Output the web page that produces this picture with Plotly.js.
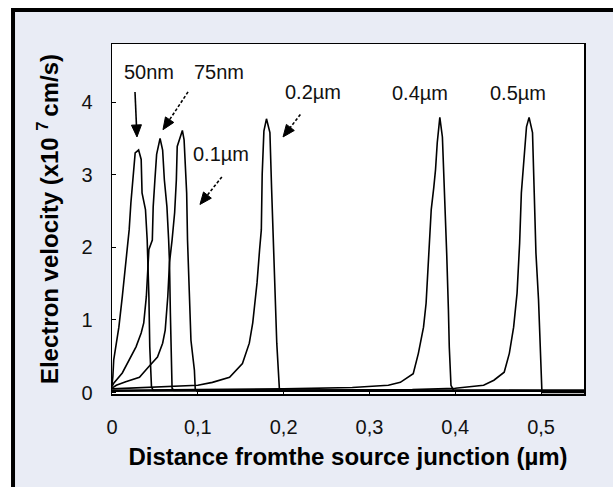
<!DOCTYPE html>
<html>
<head>
<meta charset="utf-8">
<script src="https://cdn.plot.ly/plotly-3.0.1.min.js"></script>
<style>
  html, body { margin: 0; padding: 0; background: #ffffff; }
  #chart { width: 613px; height: 487px; }
</style>
</head>
<body>
<div id="chart"></div>
<script>
// ---- data ----
const seriesNames = ['50nm', '75nm', '0.1µm', '0.2µm', '0.4µm', '0.5µm'];

const x50 = [0, 0.001, 0.002, 0.005, 0.008, 0.012, 0.016, 0.020, 0.022, 0.025, 0.027, 0.031, 0.034, 0.035, 0.039, 0.041, 0.042, 0.043, 0.044, 0.046, 0.048, 0.55];
const y50 = [0.10, 0.22, 0.45, 0.68, 0.90, 1.32, 1.79, 2.24, 2.61, 3.02, 3.30, 3.34, 3.21, 2.75, 2.52, 2.10, 1.79, 1.32, 0.63, 0.08, 0.03, 0.03];

const x75 = [0, 0.002, 0.012, 0.020, 0.028, 0.034, 0.037, 0.040, 0.041, 0.043, 0.047, 0.048, 0.050, 0.052, 0.056, 0.059, 0.061, 0.064, 0.066, 0.067, 0.068, 0.069, 0.070, 0.072, 0.55];
const y75 = [0.08, 0.13, 0.27, 0.45, 0.63, 0.82, 0.96, 1.32, 1.59, 1.97, 2.10, 2.56, 2.93, 3.28, 3.50, 3.34, 2.93, 2.56, 2.10, 1.79, 1.10, 0.49, 0.06, 0.03, 0.03];

const x100 = [0, 0.005, 0.016, 0.032, 0.043, 0.053, 0.059, 0.062, 0.065, 0.067, 0.070, 0.073, 0.075, 0.076, 0.082, 0.084, 0.087, 0.088, 0.090, 0.092, 0.096, 0.097, 0.099, 0.55];
const y100 = [0.06, 0.10, 0.15, 0.21, 0.36, 0.49, 0.68, 0.86, 1.32, 1.79, 2.10, 2.48, 2.93, 3.39, 3.61, 3.48, 2.75, 2.10, 1.41, 0.72, 0.31, 0.05, 0.02, 0.02];

const x200 = [0, 0.05, 0.10, 0.117, 0.137, 0.152, 0.160, 0.164, 0.169, 0.172, 0.174, 0.175, 0.177, 0.180, 0.184, 0.186, 0.188, 0.190, 0.192, 0.195, 0.197, 0.55];
const y200 = [0.05, 0.07, 0.10, 0.14, 0.21, 0.40, 0.68, 0.96, 1.51, 1.97, 2.24, 3.00, 3.60, 3.77, 3.58, 2.80, 2.10, 1.41, 0.68, 0.06, 0.02, 0.02];

const x400 = [0, 0.10, 0.20, 0.28, 0.322, 0.336, 0.351, 0.357, 0.363, 0.366, 0.369, 0.372, 0.375, 0.377, 0.379, 0.382, 0.385, 0.388, 0.390, 0.392, 0.393, 0.395, 0.398, 0.55];
const y400 = [0.03, 0.04, 0.05, 0.07, 0.10, 0.14, 0.26, 0.54, 0.90, 1.23, 1.83, 2.52, 2.83, 3.07, 3.44, 3.79, 3.52, 2.70, 1.92, 1.14, 0.63, 0.10, 0.03, 0.02];

const x500 = [0, 0.20, 0.35, 0.40, 0.433, 0.445, 0.457, 0.463, 0.468, 0.472, 0.475, 0.477, 0.480, 0.483, 0.486, 0.490, 0.492, 0.494, 0.497, 0.499, 0.501, 0.55];
const y500 = [0.02, 0.03, 0.04, 0.06, 0.10, 0.17, 0.28, 0.54, 0.90, 1.37, 2.06, 2.75, 3.21, 3.66, 3.79, 3.58, 2.75, 1.92, 1.28, 0.59, 0.00, 0.00];

const xTickVals = [0, 0.1, 0.2, 0.3, 0.4, 0.5];
const xTickText = ['0', '0,1', '0,2', '0,3', '0,4', '0,5'];
const yTickVals = [0, 1, 2, 3, 4];
const yTickText = ['0', '1', '2', '3', '4'];

// curve labels (text anchors in data units)
const labelText = ['50nm', '75nm', '0.1µm', '0.2µm', '0.4µm', '0.5µm'];
const labelX = [0.043, 0.1247, 0.127, 0.234, 0.359, 0.473];
const labelY = [4.42, 4.42, 3.28, 4.14, 4.13, 4.13];

// pointer arrows (data units)
const arrowTailX = [0.0268, 0.0886, 0.128, 0.2195];
const arrowTailY = [4.14, 4.14, 2.97, 3.83];
const arrowHeadX = [0.0291, 0.0594, 0.1025, 0.1993];
const arrowHeadY = [3.52, 3.62, 2.59, 3.52];
const arrowDashed = [false, true, true, true];

// ---- build figure ----
const X_RANGE = [0, 0.55], Y_RANGE = [-0.02, 4.8];
const MARGIN = { l: 112, r: 29, t: 44, b: 93, pad: 0 };
const W = 613, H = 487;
const pxPerX = (W - MARGIN.l - MARGIN.r) / (X_RANGE[1] - X_RANGE[0]);
const pxPerY = (H - MARGIN.t - MARGIN.b) / (Y_RANGE[1] - Y_RANGE[0]);

const xs = [x50, x75, x100, x200, x400, x500];
const ys = [y50, y75, y100, y200, y400, y500];
const traces = xs.map((x, i) => ({
  type: 'scatter', mode: 'lines', name: seriesNames[i],
  x: x, y: ys[i],
  line: { color: '#000000', width: 1.6 },
  showlegend: false, hoverinfo: 'skip'
}));

const FONT = '"Liberation Sans", Arial, sans-serif';
const shapes = [
  { type: 'rect', xref: 'paper', yref: 'paper', x0: -0.2097, x1: 1.3, y0: -0.6, y1: 1.097,
    fillcolor: '#e9ecf5', line: { color: '#000000', width: 4 }, layer: 'below' },
  { type: 'rect', xref: 'paper', yref: 'paper', x0: 0, x1: 1, y0: 0, y1: 1,
    fillcolor: '#ffffff', line: { width: 0 }, layer: 'below' }
];
const annotations = labelText.map((t, i) => ({
  x: labelX[i], y: labelY[i], xref: 'x', yref: 'y', text: t, showarrow: false,
  font: { family: FONT, size: 20, color: '#111111' }
}));

// arrows: shaft as a line shape, head as a filled triangle path (sized in px)
const HEAD_LEN = 12, HEAD_HALF = 5;
arrowTailX.forEach((tx, i) => {
  const ty = arrowTailY[i], hx = arrowHeadX[i], hy = arrowHeadY[i];
  // direction in pixel space (y up)
  const dxp = (hx - tx) * pxPerX, dyp = (hy - ty) * pxPerY;
  const len = Math.hypot(dxp, dyp);
  const ux = dxp / len, uy = dyp / len;
  const bxp = -ux * HEAD_LEN, byp = -uy * HEAD_LEN; // from tip back to base
  const px = -uy * HEAD_HALF, py = ux * HEAD_HALF;   // perpendicular
  const baseX = hx + bxp / pxPerX, baseY = hy + byp / pxPerY;
  const p1x = baseX + px / pxPerX, p1y = baseY + py / pxPerY;
  const p2x = baseX - px / pxPerX, p2y = baseY - py / pxPerY;
  shapes.push({ type: 'line', xref: 'x', yref: 'y', x0: tx, y0: ty, x1: baseX, y1: baseY,
    line: { color: '#000000', width: 1.6, dash: arrowDashed[i] ? '3px,2px' : 'solid' } });
  shapes.push({ type: 'path', xref: 'x', yref: 'y',
    path: `M ${hx} ${hy} L ${p1x} ${p1y} L ${p2x} ${p2y} Z`,
    fillcolor: '#000000', line: { color: '#000000', width: 1 } });
});

const layout = {
  width: W, height: H,
  margin: MARGIN,
  paper_bgcolor: '#ffffff', plot_bgcolor: '#ffffff',
  font: { family: FONT, color: '#111111' },
  xaxis: {
    range: X_RANGE, tickvals: xTickVals, ticktext: xTickText,
    ticks: 'inside', ticklen: 3, tickcolor: '#000000',
    showline: true, linecolor: '#000000', linewidth: 1.5, mirror: true,
    showgrid: false, zeroline: false, ticklabelstandoff: 14,
    tickfont: { family: FONT, size: 20, color: '#111111' },
    title: { text: '<b>Distance fromthe source junction (µm)</b>', standoff: 11,
      font: { family: FONT, size: 24, color: '#000000' } }
  },
  yaxis: {
    range: Y_RANGE, tickvals: yTickVals, ticktext: yTickText,
    ticks: 'inside', ticklen: 4, tickcolor: '#000000',
    showline: true, linecolor: '#000000', linewidth: 1.5, mirror: true,
    showgrid: false, zeroline: false, ticklabelstandoff: 14,
    tickfont: { family: FONT, size: 20, color: '#111111' },
    title: { text: '<b>Electron velocity (x10 <sup>7 </sup>cm/s)</b>', standoff: 16,
      font: { family: FONT, size: 24, color: '#000000' } }
  },
  shapes: shapes,
  annotations: annotations
};

Plotly.newPlot('chart', traces, layout, { staticPlot: true, displayModeBar: false });
</script>
</body>
</html>
